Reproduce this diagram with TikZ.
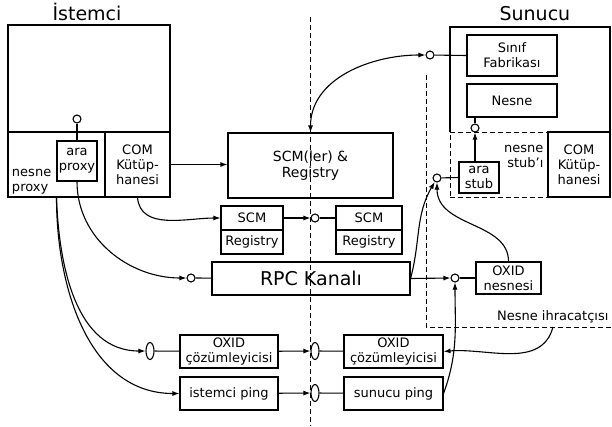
\documentclass[tikz,border=0pt]{standalone}
\usepackage{fontspec}
\setmainfont{DejaVu Sans}
\usetikzlibrary{arrows.meta,shapes.geometric}

\begin{document}
\begin{tikzpicture}[x=1pt,y=-1pt,
    line width=1.1pt,
    >={Latex[length=7pt,width=5pt]},
    every node/.style={font=\fontsize{13}{15}\selectfont,inner sep=1pt},
    box/.style={draw,rectangle,align=center},
    port/.style={draw,circle,fill=white,minimum size=8pt,inner sep=0pt},
    plug/.style={draw,ellipse,fill=white,minimum width=8pt,minimum height=17pt,inner sep=0pt},
    title/.style={font=\fontsize{19}{22}\selectfont},
    border/.style={dashed,dash pattern=on 5pt off 3pt,line width=0.8pt}]
      \useasboundingbox (0,0) rectangle (612,426);

      % middle border
      \coordinate (sinirtop) at (310,17);
      \coordinate (sinirbot) at (310,426);
      \draw[border] (sinirtop) -- (sinirbot);

      \node[title,anchor=base west] (tistemci) at (51,20) {İstemci};
      \node[title,anchor=base west] (tsunucu) at (498,20) {Sunucu};

      % client
      \node[box,minimum width=162pt,minimum height=172pt] (istemci) at (89,111) {};
      \node[box,minimum width=97pt,minimum height=65pt] (nproxy) at (56.5,164.5) {};
      \node[box,minimum width=65pt,minimum height=65pt] (comk) at (137.5,164.5) {COM\\Kütüp-\\hanesi};
      \node[anchor=south west,align=left] (nproxytxt) at ([shift={(3,-2)}]nproxy.south west) {nesne\\proxy};
      \node[box,minimum width=40pt,minimum height=40pt] (araproxy) at (77,161) {ara\\proxy};
      \node[port] (pport) at (77,119) {};
      \draw (pport) -- (araproxy);

      \node[box,minimum width=165pt,minimum height=65pt,font=\fontsize{14}{16}\selectfont] (scmler) at (310.5,165.5) {SCM(ler) \&\\Registry};

      \node[box,minimum width=62pt,minimum height=24pt] (scma) at (252,218) {SCM};
      \node[box,minimum width=62pt,minimum height=24pt] (rega) at (252,242) {Registry};
      \node[box,minimum width=66pt,minimum height=24pt] (scmb) at (369,218) {SCM};
      \node[box,minimum width=66pt,minimum height=24pt] (regb) at (369,242) {Registry};
      \node[port] (sport) at (315,218) {};

      \node[box,minimum width=198pt,minimum height=33pt,font=\fontsize{19}{22}\selectfont] (rpc) at (311,278.5) {RPC Kanalı};
      \node[port] (rpcport) at (191,278) {};
      \node[port] (oxport) at (455,278) {};
      \node[box,minimum width=65pt,minimum height=32pt] (oxidn) at (508.5,278) {OXID\\nesnesi};

      \node[box,minimum width=98pt,minimum height=33pt] (oxidc) at (229,351.5) {OXID\\çözümleyicisi};
      \node[box,minimum width=98pt,minimum height=33pt] (ping) at (229,393.5) {istemci ping};
      \node[box,minimum width=99pt,minimum height=33pt] (oxids) at (393.5,351.5) {OXID\\çözümleyicisi};
      \node[box,minimum width=99pt,minimum height=33pt] (pings) at (393.5,393.5) {sunucu ping};
      \node[plug] (cplug) at (150,351) {};
      \node[plug] (oplug) at (315,351) {};
      \node[plug] (pplug) at (315,393) {};

      % server
      \draw (450,132) -- (450,27) -- (610,27) -- (610,132);
      \node[box,minimum width=90pt,minimum height=41pt] (sinif) at (512,55.5) {Sınıf\\Fabrikası};
      \node[box,minimum width=90pt,minimum height=33pt] (nesne) at (512,100.5) {Nesne};
      \node[port] (fport) at (430,55) {};
      \node[port] (nport) at (475,128) {};
      \node[box,border,minimum width=98pt,minimum height=65pt] (stub) at (499,164.5) {};
      \node[box,minimum width=62pt,minimum height=65pt] (comks) at (579,164.5) {COM\\Kütüp-\\hanesi};
      \node[box,minimum width=40pt,minimum height=31pt] (arastub) at (479,177.5) {ara\\stub};
      \node[anchor=east,align=right] (stubtxt) at (545,156) {nesne\\stub’ı};
      \node[port] (stport) at (437,178) {};

      % object exporter
      \coordinate (extop) at (426,75);
      \coordinate (excorner) at (426,327);
      \coordinate (exend) at (612,327);
      \coordinate (exout) at (553,327);
      \draw[border] (extop) -- (excorner) -- (exend);
      \node[anchor=south east] (ihracat) at (610,325) {Nesne ihracatçısı};

      % connectors
      \draw[->] (comk.east) -- (comk.east -| scmler.west);
      \draw[->] (comk.south) to[out=-85,in=180] (scma.west);
      \draw[<->] (scmler.north) to[out=90,in=180] (fport.west);
      \draw (fport) -- (sinif.west);
      \draw (nport) -- (nport |- nesne.south);
      \draw[->] (arastub.north -| nport) -- (nport);
      \draw (stport) -- (arastub.west);
      \draw[->] (scma) -- (sport);
      \draw (sport) -- (scmb);
      \draw[->] (araproxy.south) to[out=-90,in=180] (rpcport.west);
      \draw (rpcport) -- (rpc);
      \draw[->] (rpc.east) -- (oxport.west);
      \draw (oxport) -- (oxidn);
      \draw[->] (rpc.east) to[out=75,in=-120] (stport);
      \draw[->] (oxidn.north) .. controls +(0,-40) and +(0,45) .. (stport.south);
      \draw[->] (nproxy.south) to[out=-88,in=180] (cplug.west);
      \draw[->] (nproxy.south) to[out=-90,in=180] (ping.west);
      \draw (cplug) -- (oxidc);
      \draw[->] (oxidc) -- (oplug);
      \draw (oplug) -- (oxids);
      \draw[->] (ping) -- (pplug);
      \draw (pplug) -- (pings);
      \draw[->] (exout) to[out=-105,in=5] (oxids.east);
      \draw[->] (pings.east) to[out=70,in=-90] (oxport.south);
\end{tikzpicture}
\end{document}
